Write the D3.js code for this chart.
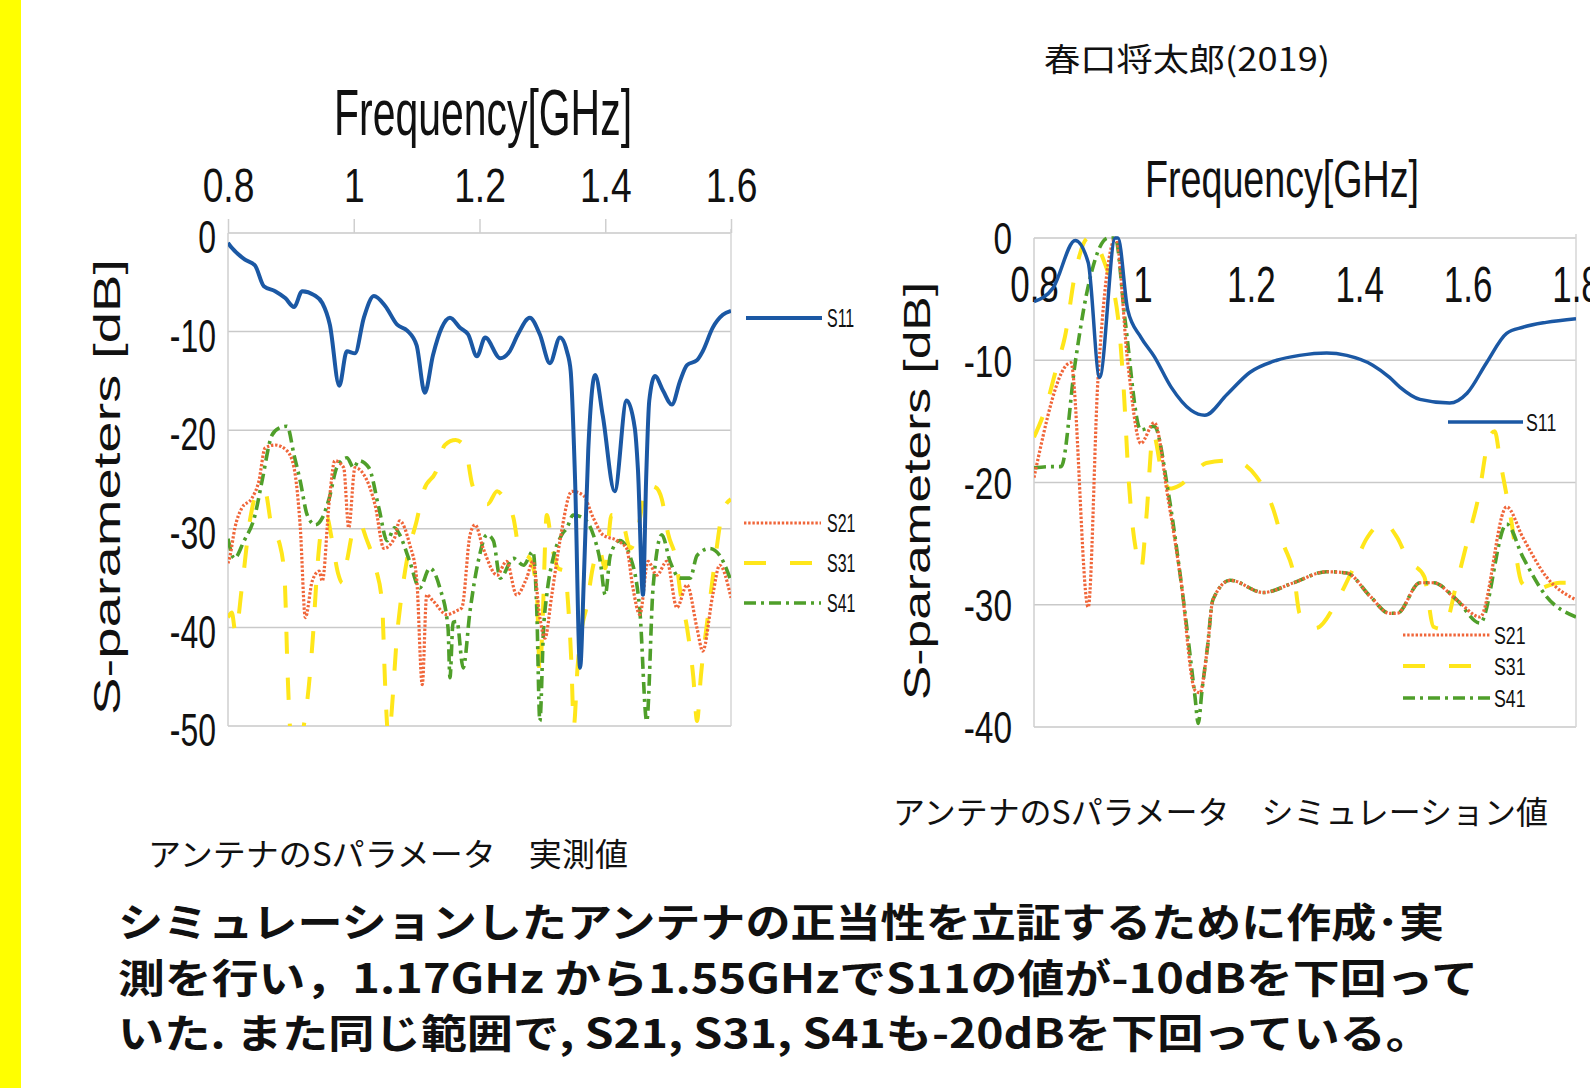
<!DOCTYPE html>
<html>
<head>
<meta charset="utf-8">
<script src="https://cdn.jsdelivr.net/npm/d3@7"></script>
<style>
body { margin: 0; background: #fff; }
svg { display: block; }
text { font-family: "Liberation Sans", Arial, "Noto Sans CJK JP", sans-serif; fill: #111; }
.jp { font-family: "Noto Sans CJK JP", "Liberation Sans", sans-serif; }
</style>
</head>
<body>
<svg width="1590" height="1088"></svg>
<script>
'use strict';

// ---- measured chart (left) ----
var measXTicks = [0.8, 1, 1.2, 1.4, 1.6];
var measYTicks = [0, -10, -20, -30, -40, -50];

var measS11 = [[0.800,-1.0],[0.806,-1.5],[0.827,-2.7],[0.843,-3.3],[0.857,-5.4],[0.875,-5.9],[0.891,-6.6],
  [0.905,-7.5],[0.918,-5.9],[0.937,-6.3],[0.950,-7.1],[0.962,-9.3],[0.977,-15.5],[0.989,-12.0],[1.002,-12.2],
  [1.016,-8.6],[1.032,-6.4],[1.050,-7.4],[1.069,-9.3],[1.085,-9.9],[1.100,-11.4],[1.113,-16.2],[1.126,-12.4],
  [1.140,-9.6],[1.153,-8.6],[1.169,-9.6],[1.182,-10.3],[1.196,-12.5],[1.209,-10.6],[1.233,-12.7],[1.248,-12.0],
  [1.261,-10.3],[1.280,-8.6],[1.296,-10.3],[1.312,-13.2],[1.328,-10.6],[1.339,-12.0],[1.345,-14.0],[1.352,-25.0],
  [1.360,-44.1],[1.366,-35.0],[1.373,-22.0],[1.384,-14.4],[1.396,-18.5],[1.415,-26.2],[1.434,-17.0],[1.447,-19.8],
  [1.452,-24.0],[1.460,-36.7],[1.465,-25.0],[1.470,-17.0],[1.479,-14.5],[1.492,-16.0],[1.506,-17.4],[1.519,-15.0],
  [1.530,-13.4],[1.546,-12.9],[1.555,-12.0],[1.571,-9.6],[1.587,-8.3],[1.600,-7.9]];

var measS21 = [[0.800,-33.5],[0.803,-32.8],[0.811,-29.9],[0.822,-27.9],[0.838,-26.9],[0.849,-25.2],[0.859,-21.8],
  [0.875,-21.5],[0.894,-22.1],[0.905,-23.8],[0.915,-29.9],[0.923,-39.0],[0.934,-35.3],[0.945,-34.3],[0.950,-35.3],
  [0.961,-27.2],[0.970,-23.1],[0.984,-23.8],[0.992,-29.9],[1.002,-23.8],[1.016,-24.5],[1.034,-27.6],[1.048,-32.0],
  [1.065,-30.9],[1.073,-29.2],[1.089,-31.6],[1.100,-35.0],[1.109,-45.8],[1.116,-36.7],[1.126,-37.3],[1.148,-38.7],
  [1.164,-38.3],[1.172,-38.0],[1.185,-30.6],[1.193,-29.6],[1.206,-32.0],[1.228,-34.7],[1.243,-33.3],[1.259,-36.7],
  [1.275,-35.0],[1.285,-33.3],[1.296,-39.0],[1.304,-41.1],[1.315,-36.7],[1.328,-31.2],[1.347,-26.2],[1.365,-26.6],
  [1.381,-28.9],[1.396,-30.6],[1.419,-31.2],[1.434,-32.0],[1.444,-36.0],[1.455,-38.7],[1.468,-33.3],[1.482,-34.7],
  [1.498,-33.3],[1.514,-38.0],[1.530,-35.7],[1.546,-40.1],[1.555,-42.4],[1.571,-36.7],[1.582,-33.7],[1.600,-37.0]];

var measS31 = [[0.800,-39.0],[0.806,-38.5],[0.812,-40.5],[0.822,-36.0],[0.835,-29.1],[0.845,-26.5],[0.858,-26.0],
  [0.870,-30.0],[0.882,-31.5],[0.890,-35.0],[0.895,-45.0],[0.899,-50.5],[0.905,-53.0],[0.925,-48.0],[0.935,-41.0],
  [0.942,-34.0],[0.950,-29.5],[0.957,-28.8],[0.965,-31.0],[0.975,-34.5],[0.982,-35.5],[0.990,-33.0],[1.000,-30.0],
  [1.010,-29.5],[1.020,-31.0],[1.035,-34.0],[1.045,-37.5],[1.050,-46.0],[1.055,-51.0],[1.070,-40.0],[1.085,-33.0],
  [1.100,-29.2],[1.112,-26.0],[1.130,-24.3],[1.145,-21.5],[1.162,-21.0],[1.177,-21.7],[1.188,-25.4],[1.200,-27.0],
  [1.213,-27.5],[1.228,-26.2],[1.240,-27.0],[1.254,-28.9],[1.264,-32.3],[1.280,-33.0],[1.291,-36.3],[1.296,-45.0],
  [1.300,-40.0],[1.307,-28.6],[1.315,-31.6],[1.325,-34.0],[1.336,-34.3],[1.341,-37.7],[1.346,-43.4],[1.350,-50.0],
  [1.356,-44.0],[1.363,-40.0],[1.370,-38.0],[1.380,-34.0],[1.390,-32.0],[1.400,-34.0],[1.410,-28.6],[1.425,-28.8],
  [1.440,-32.0],[1.452,-30.0],[1.466,-25.6],[1.480,-25.8],[1.490,-27.0],[1.500,-30.5],[1.513,-33.3],[1.520,-36.7],
  [1.530,-40.0],[1.540,-45.0],[1.546,-49.5],[1.552,-45.0],[1.565,-38.0],[1.575,-33.0],[1.587,-28.2],[1.600,-27.0]];

var measS41 = [[0.800,-31.0],[0.810,-33.0],[0.825,-31.3],[0.843,-28.6],[0.854,-25.2],[0.870,-20.5],[0.881,-19.8],
  [0.894,-19.6],[0.905,-22.5],[0.915,-25.2],[0.926,-28.6],[0.939,-29.6],[0.950,-28.9],[0.961,-26.9],[0.973,-23.8],
  [0.989,-22.8],[1.000,-23.8],[1.008,-23.1],[1.024,-23.8],[1.040,-27.9],[1.053,-31.2],[1.065,-29.9],[1.073,-30.6],
  [1.089,-33.3],[1.105,-36.0],[1.121,-34.0],[1.137,-36.0],[1.150,-40.1],[1.153,-45.1],[1.158,-39.5],[1.164,-39.4],
  [1.174,-44.1],[1.185,-38.3],[1.198,-33.3],[1.212,-30.6],[1.222,-31.2],[1.233,-35.0],[1.254,-33.0],[1.270,-33.7],
  [1.285,-32.3],[1.291,-38.0],[1.296,-49.5],[1.302,-40.0],[1.307,-36.7],[1.317,-33.0],[1.331,-30.6],[1.339,-29.9],
  [1.349,-28.6],[1.365,-28.9],[1.381,-30.6],[1.392,-33.3],[1.400,-36.7],[1.408,-32.7],[1.423,-31.2],[1.439,-32.7],
  [1.455,-38.3],[1.466,-49.5],[1.476,-36.0],[1.490,-30.6],[1.503,-33.3],[1.519,-35.0],[1.535,-35.0],[1.546,-32.7],
  [1.566,-32.0],[1.582,-32.7],[1.600,-35.3]];

// ---- simulated chart (right) ----
var simXTicks = [0.8, 1, 1.2, 1.4, 1.6, 1.8];
var simYTicks = [0, -10, -20, -30, -40];

var simS11 = [[0.800,-5.2],[0.835,-4.1],[0.876,-0.2],[0.900,-2.0],[0.921,-11.4],[0.950,0],[0.955,0],[0.973,-5.9],
  [0.997,-8.1],[1.022,-9.7],[1.053,-12.2],[1.090,-14.1],[1.115,-14.5],[1.156,-12.8],[1.198,-11.0],[1.248,-10.0],
  [1.290,-9.6],[1.340,-9.4],[1.377,-9.6],[1.425,-10.4],[1.456,-11.4],[1.475,-12.2],[1.512,-13.2],[1.567,-13.5],
  [1.599,-12.7],[1.635,-10.2],[1.672,-7.8],[1.702,-7.3],[1.745,-6.9],[1.800,-6.6]];

var simS21 = [[0.800,-19.6],[0.868,-10.2],[0.900,-30.2],[0.918,-11.6],[0.951,0],[0.973,-10.2],[0.997,-16.8],
  [1.022,-15.1],[1.047,-21.2],[1.071,-28.0],[1.097,-37.0],[1.106,-37.2],[1.120,-33.5],[1.130,-29.6],[1.162,-28.0],
  [1.223,-29.0],[1.279,-28.2],[1.340,-27.3],[1.377,-27.4],[1.420,-29.3],[1.456,-30.7],[1.470,-30.7],[1.512,-28.2],
  [1.537,-28.2],[1.580,-29.6],[1.623,-31.0],[1.672,-22.0],[1.702,-24.5],[1.745,-27.7],[1.800,-29.6]];

var simS31 = [[0.800,-16.3],[0.820,-14.1],[0.844,-10.2],[0.857,-8.1],[0.876,-2.9],[0.900,0],[0.930,-2.0],
  [0.955,-6.5],[0.965,-12.0],[0.975,-20.0],[0.990,-26.0],[0.998,-27.0],[1.007,-23.0],[1.020,-16.0],[1.035,-19.0],
  [1.050,-20.5],[1.070,-20.2],[1.100,-19.0],[1.118,-18.4],[1.167,-18.2],[1.210,-19.5],[1.240,-22.0],[1.260,-25.0],
  [1.280,-27.7],[1.290,-30.7],[1.320,-31.9],[1.360,-29.6],[1.385,-27.4],[1.415,-24.5],[1.445,-23.3],[1.470,-24.5],
  [1.490,-26.3],[1.520,-27.7],[1.537,-31.8],[1.555,-32.0],[1.580,-28.2],[1.600,-24.7],[1.620,-21.2],[1.640,-16.3],
  [1.650,-15.8],[1.660,-18.2],[1.680,-23.0],[1.700,-28.2],[1.720,-28.8],[1.770,-28.2],[1.800,-28.2]];

var simS41 = [[0.800,-18.8],[0.831,-18.7],[0.850,-18.7],[0.876,-10.2],[0.896,-4.8],[0.937,0],[0.950,0],
  [0.968,-6.7],[0.997,-15.7],[1.022,-15.4],[1.047,-20.6],[1.071,-28.0],[1.097,-37.5],[1.103,-39.7],[1.110,-37.0],
  [1.120,-33.5],[1.130,-29.6],[1.162,-28.0],[1.223,-29.0],[1.279,-28.2],[1.340,-27.3],[1.377,-27.4],[1.420,-29.3],
  [1.456,-30.7],[1.470,-30.7],[1.512,-28.2],[1.537,-28.2],[1.580,-29.6],[1.623,-31.5],[1.672,-23.4],[1.702,-26.1],
  [1.745,-29.3],[1.800,-31.0]];

var seriesNames = ['S11', 'S21', 'S31', 'S41'];

// ---- texts ----
var authorText = '春口将太郎(2019)';
var xTitle = 'Frequency[GHz]';
var yTitle = 'S-parameters [dB]';
var measCaption = 'アンテナのSパラメータ\u3000実測値';
var simCaption = 'アンテナのSパラメータ\u3000シミュレーション値';
var bodyLines = [
  'シミュレーションしたアンテナの正当性を立証するために作成･実',
  '測を行い，1.17GHz から1.55GHzでS11の値が-10dBを下回って',
  'いた. また同じ範囲で, S21, S31, S41も-20dBを下回っている。'
];

// line styles
var styles = {
  S11: { color: '#1b58a4', dash: null, width: 4 },
  S21: { color: '#f0663a', dash: '2.4,1.8', width: 3.2 },
  S31: { color: '#ffe61a', dash: '22,24', width: 4 },
  S41: { color: '#4f9f2a', dash: '12,5,3,5', width: 3.6 }
};

var svg = d3.select('svg');
svg.append('rect').attr('width', 1590).attr('height', 1088).attr('fill', '#fff');
svg.append('rect').attr('x', 0).attr('y', 0).attr('width', 21).attr('height', 1088).attr('fill', '#ffff00');

function drawPanel(p) {
  var x = d3.scaleLinear().domain(p.xDomain).range(p.xRange);
  var y = d3.scaleLinear().domain(p.yDomain).range(p.yRange);
  var g = svg.append('g');
  var x0 = p.xRange[0], x1 = p.xRange[1], y0 = p.yRange[0], y1 = p.yRange[1];

  // horizontal grid
  g.selectAll('line.grid').data(p.yTicks).enter().append('line')
    .attr('class', 'grid')
    .attr('x1', x0).attr('x2', x1)
    .attr('y1', function (d) { return y(d); })
    .attr('y2', function (d) { return y(d); })
    .attr('stroke', '#c9c9c9').attr('stroke-width', 1.5);
  // left axis line & right border
  g.append('line').attr('x1', x0).attr('x2', x0).attr('y1', y0).attr('y2', y1)
    .attr('stroke', '#cfcfcf').attr('stroke-width', 1.5);
  g.append('line').attr('x1', x1).attr('x2', x1).attr('y1', y0 - 4).attr('y2', y1)
    .attr('stroke', '#d6d6d6').attr('stroke-width', 1.5);

  // x axis labels
  var xAxis = (p.xTop ? d3.axisTop(x) : d3.axisBottom(x))
    .tickValues(p.xTicks)
    .tickFormat(function (d) { return String(d); })
    .tickSize(p.xTickSize).tickPadding(p.xPad);
  var xg = g.append('g').attr('transform', 'translate(0,' + y0 + ')').call(xAxis);
  xg.select('.domain').remove();
  xg.selectAll('line').attr('stroke', '#cfcfcf').attr('stroke-width', 1.5);
  xg.selectAll('text')
    .attr('font-family', 'Liberation Sans, Arial, sans-serif')
    .attr('font-size', p.xFont).attr('fill', '#111')
    .attr('transform', 'scale(' + p.xScaleX + ',1)');

  // y axis labels
  var yAxis = d3.axisLeft(y).tickValues(p.yTicks)
    .tickFormat(function (d) { return String(d); })
    .tickSize(0);
  var yg = g.append('g').attr('transform', 'translate(' + x0 + ',0)').call(yAxis);
  yg.select('.domain').remove();
  yg.selectAll('text')
    .attr('x', 0).attr('dy', p.yDy)
    .attr('font-family', 'Liberation Sans, Arial, sans-serif')
    .attr('font-size', p.yFont).attr('fill', '#111')
    .attr('transform', 'translate(' + (-p.yPad) + ',0) scale(' + p.yScaleX + ',1)');

  // titles
  g.append('text').attr('x', p.titleX).attr('y', p.titleY)
    .attr('text-anchor', 'middle').attr('font-size', p.titleFont)
    .attr('textLength', p.titleLen).attr('lengthAdjust', 'spacingAndGlyphs')
    .text(xTitle);
  g.append('text')
    .attr('transform', 'translate(' + p.yTitleX + ',' + p.yTitleY + ') rotate(-90)')
    .attr('text-anchor', 'middle').attr('font-size', p.yTitleFont)
    .attr('textLength', p.yTitleLen).attr('lengthAdjust', 'spacingAndGlyphs')
    .text(yTitle);

  // series
  var clipId = 'clip-' + p.id;
  svg.append('clipPath').attr('id', clipId).append('rect')
    .attr('x', x0).attr('y', y0 - 3).attr('width', x1 - x0).attr('height', y1 - y0 + 3);
  var line = d3.line()
    .x(function (d) { return x(d[0]); })
    .y(function (d) { return y(d[1]); })
    .curve(d3.curveMonotoneX);
  var lg = g.append('g').attr('clip-path', 'url(#' + clipId + ')');
  p.drawOrder.forEach(function (name) {
    var st = styles[name];
    lg.append('path').datum(p.data[name])
      .attr('d', line)
      .attr('fill', 'none')
      .attr('stroke', st.color)
      .attr('stroke-width', name === 'S11' ? p.s11Width : st.width)
      .attr('stroke-dasharray', st.dash)
      .attr('stroke-linejoin', 'round');
  });

  // legend
  p.legend.forEach(function (L, i) {
    var st = styles[seriesNames[i]];
    g.append('line').attr('x1', L[0]).attr('x2', L[1]).attr('y1', L[2]).attr('y2', L[2])
      .attr('stroke', st.color)
      .attr('stroke-width', seriesNames[i] === 'S11' ? p.s11Width : st.width)
      .attr('stroke-dasharray', st.dash);
    g.append('text')
      .attr('transform', 'translate(' + L[3] + ',' + (L[2] + 9) + ') scale(' + p.legScaleX + ',1)')
      .attr('font-size', p.legFont)
      .text(seriesNames[i]);
  });
}

drawPanel({
  id: 'meas',
  xDomain: [0.8, 1.6], xRange: [228, 731],
  yDomain: [0, -50], yRange: [233, 726],
  xTicks: measXTicks, yTicks: measYTicks,
  xTop: true, xTickSize: 14, xPad: 17, xFont: 49, xScaleX: 0.76,
  yFont: 47, yScaleX: 0.68, yPad: 12, yDy: '0.42em',
  titleX: 483, titleY: 135, titleFont: 65, titleLen: 298,
  yTitleX: 120, yTitleY: 487, yTitleFont: 36, yTitleLen: 456,
  s11Width: 4,
  data: { S11: measS11, S21: measS21, S31: measS31, S41: measS41 },
  drawOrder: ['S31', 'S41', 'S21', 'S11'],
  legend: [[746, 822, 318, 827], [744, 821, 523, 827], [744, 821, 563, 827], [744, 821, 603, 827]],
  legFont: 25, legScaleX: 0.64
});

drawPanel({
  id: 'sim',
  xDomain: [0.8, 1.8], xRange: [1034, 1576],
  yDomain: [0, -40], yRange: [238, 727],
  xTicks: simXTicks, yTicks: simYTicks,
  xTop: false, xTickSize: 0, xPad: 29, xFont: 50, xScaleX: 0.7,
  yFont: 44, yScaleX: 0.76, yPad: 22, yDy: '0.36em',
  titleX: 1282, titleY: 197, titleFont: 51, titleLen: 274,
  yTitleX: 930, yTitleY: 491, yTitleFont: 37, yTitleLen: 418,
  s11Width: 3.5,
  data: { S11: simS11, S21: simS21, S31: simS31, S41: simS41 },
  drawOrder: ['S31', 'S41', 'S21', 'S11'],
  legend: [[1448, 1523, 422, 1526], [1403, 1490, 635, 1494], [1403, 1490, 666, 1494], [1403, 1490, 698, 1494]],
  legFont: 24, legScaleX: 0.74
});

// other texts
svg.append('text').attr('class', 'jp').attr('x', 1044).attr('y', 71)
  .attr('font-size', 32).attr('textLength', 286).attr('lengthAdjust', 'spacingAndGlyphs')
  .text(authorText);
svg.append('text').attr('class', 'jp').attr('x', 893).attr('y', 824)
  .attr('font-size', 32).attr('textLength', 655).attr('lengthAdjust', 'spacingAndGlyphs')
  .text(simCaption);
svg.append('text').attr('class', 'jp').attr('x', 148).attr('y', 866)
  .attr('font-size', 32).attr('textLength', 480).attr('lengthAdjust', 'spacingAndGlyphs')
  .text(measCaption);

var bodyWidths = [1326, 1360, 1314];
var bodyY = [937, 993, 1048];
svg.selectAll('text.body').data(bodyLines).enter().append('text')
  .attr('class', 'jp body')
  .attr('x', 118)
  .attr('y', function (d, i) { return bodyY[i]; })
  .attr('font-size', 40).attr('font-weight', 700)
  .attr('textLength', function (d, i) { return bodyWidths[i]; })
  .attr('lengthAdjust', 'spacingAndGlyphs')
  .text(function (d) { return d; });
</script>
</body>
</html>
